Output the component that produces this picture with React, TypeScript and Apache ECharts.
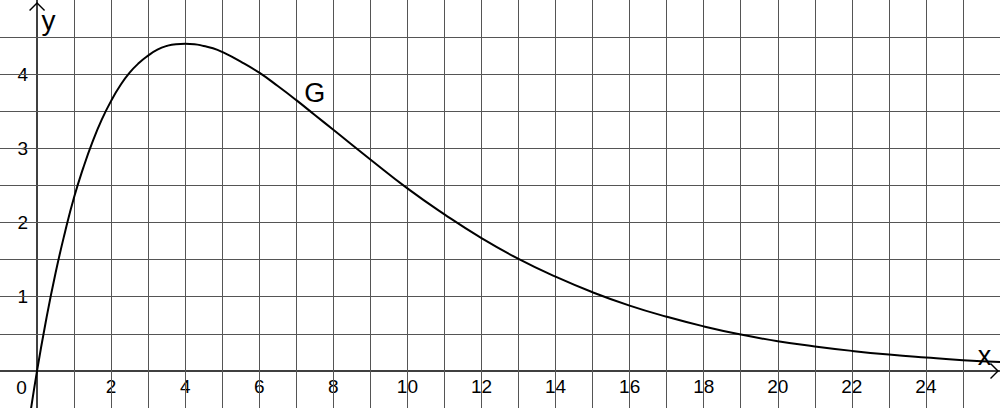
import React, { useEffect, useRef } from 'react'
import * as echarts from 'echarts'

const xValues = [-0.25, 0, 0.25, 0.5, 0.75, 1, 1.25, 1.5, 1.75, 2, 2.25, 2.5, 2.75, 3, 3.25, 3.5, 3.75, 4, 4.25, 4.5, 4.75, 5, 5.5, 6, 6.5, 7, 7.5, 8, 9, 10, 11, 12, 13, 14, 15, 16, 17, 18, 19, 20, 21, 22, 23, 24, 25, 26]
const yValues = [-0.8, 0, 0.7, 1.32, 1.86, 2.34, 2.74, 3.09, 3.39, 3.64, 3.85, 4.02, 4.15, 4.25, 4.33, 4.38, 4.405, 4.41, 4.405, 4.38, 4.35, 4.3, 4.17, 4.02, 3.84, 3.65, 3.45, 3.25, 2.85, 2.46, 2.11, 1.79, 1.51, 1.27, 1.06, 0.88, 0.73, 0.6, 0.49, 0.4, 0.33, 0.27, 0.22, 0.18, 0.145, 0.12]

// grid line positions
const xGrid = [1, 2, 3, 4, 5, 6, 7, 8, 9, 10, 11, 12, 13, 14, 15, 16, 17, 18, 19, 20, 21, 22, 23, 24, 25]
const yGrid = [0.5, 1, 1.5, 2, 2.5, 3, 3.5, 4, 4.5]

const xTickLabels = [2, 4, 6, 8, 10, 12, 14, 16, 18, 20, 22, 24]
const yTickLabels = [1, 2, 3, 4]

// text labels placed in data coordinates
const textLabels = [
    { text: 'G', at: [7.5, 3.75], size: 27 },
    { text: 'x', at: [25.58, 0.2], size: 27 },
    { text: 'y', at: [0.31, 4.73], size: 28 },
    { text: '0', at: [-0.42, -0.22], size: 19 },
]

const FONT = '"Liberation Sans", Arial, sans-serif'
const ARROW = 'path://M8,0 L16,8 L15,9 L8,2 L1,9 L0,8 Z'

const App = () => {
    const chartRef = useRef<HTMLDivElement>(null)

    useEffect(() => {
        if (!chartRef.current) return
        const chart = echarts.init(chartRef.current, null, { renderer: 'svg' })

        const option = {
            animation: false,
            grid: { left: 0, right: 0, top: 0, bottom: 0, containLabel: false, outerBoundsMode: 'none' },
            xAxis: {
                type: 'value',
                min: -1,
                max: 26,
                interval: 1,
                position: 'bottom',
                offset: 0,
                axisLine: {
                    onZero: false,
                    lineStyle: { color: '#000', width: 1.5 },
                    symbol: ['none', ARROW],
                    symbolSize: [17, 9],
                    symbolOffset: [0, -5.5],
                },
                axisTick: {
                    show: true,
                    customValues: xTickLabels,
                    length: 4,
                    lineStyle: { color: '#222', width: 1 },
                },
                axisLabel: {
                    customValues: xTickLabels,
                    color: '#000',
                    fontSize: 19,
                    fontFamily: FONT,
                    margin: 6,
                },
                splitLine: { show: false },
            },
            yAxis: {
                type: 'value',
                min: -0.5,
                max: 5,
                interval: 0.5,
                position: 'left',
                offset: 0,
                axisLine: {
                    show: true,
                    onZero: false,
                    lineStyle: { color: '#000', width: 1.5 },
                    symbol: ['none', ARROW],
                    symbolSize: [17, 9],
                    symbolOffset: [0, -6.5],
                },
                axisTick: {
                    show: true,
                    customValues: yTickLabels,
                    length: 4,
                    lineStyle: { color: '#222', width: 1 },
                },
                axisLabel: {
                    customValues: yTickLabels,
                    color: '#000',
                    fontSize: 19,
                    fontFamily: FONT,
                    margin: 9,
                    padding: [6, 0, 0, 0],
                },
                splitLine: { show: false },
            },
            series: [
                {
                    // grid lines
                    name: 'grid',
                    type: 'line',
                    data: [],
                    z: 1,
                    silent: true,
                    markLine: {
                        silent: true,
                        symbol: 'none',
                        label: { show: false },
                        lineStyle: { color: '#555', width: 1, type: 'solid' },
                        emphasis: { disabled: true },
                        data: [
                            ...xGrid.map((v) => ({ xAxis: v })),
                            ...yGrid.map((v) => ({ yAxis: v })),
                        ],
                    },
                },
                {
                    name: 'G',
                    type: 'line',
                    data: xValues.map((x, i) => [x, yValues[i]]),
                    smooth: true,
                    showSymbol: false,
                    clip: true,
                    lineStyle: { color: '#000', width: 2 },
                    z: 5,
                },
            ],
        }

        try {
            chart.setOption(option)
            // move both axes onto the origin (labels included)
            const origin = chart.convertToPixel({ gridIndex: 0 }, [0, 0]) as number[]
            chart.setOption({
                xAxis: { offset: -(chart.getHeight() - origin[1]) },
                yAxis: { offset: -origin[0] },
                graphic: textLabels.map((l) => {
                    const p = chart.convertToPixel({ gridIndex: 0 }, l.at) as number[]
                    return {
                        type: 'text',
                        x: p[0],
                        y: p[1],
                        z: 10,
                        style: {
                            text: l.text,
                            fontSize: l.size,
                            fontFamily: FONT,
                            fill: '#000',
                            align: 'center',
                            verticalAlign: 'middle',
                        },
                    }
                }),
            })
        } catch (err) {
            console.error('Error setting chart options:', err)
        }

        return () => {
            chart.dispose()
        }
    }, [])

    return (
        <div
            ref={chartRef}
            style={{ position: 'fixed', left: 0, top: 0, width: '1000px', height: '408px', background: '#fff' }}
        />
    )
}

export default App
